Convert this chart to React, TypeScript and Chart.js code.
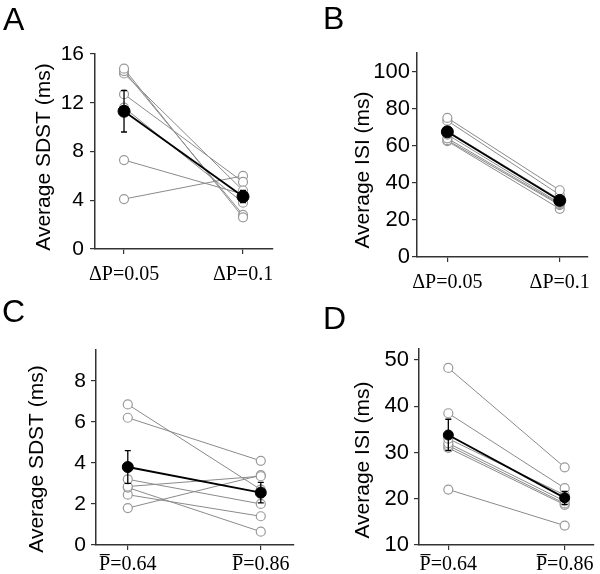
import React, { useEffect, useRef } from "react";
import { Chart, registerables } from "chart.js";
Chart.register(...registerables);

// ---------- Data ----------
const aCategories = ["\u0394P=0.05", "\u0394P=0.1"];
const aFirst = [14.8, 14.6, 14.4, 12.7, 11.6, 7.3, 4.1];
const aSecond = [2.6, 2.8, 4.8, 5.5, 3.8, 4.5, 6.0];
const aMean = [11.3, 4.3];
const aErr = [1.7, 0.5];
const aTicks = [0, 4, 8, 12, 16];

const bCategories = ["\u0394P=0.05", "\u0394P=0.1"];
const bFirst = [75, 73.5, 68, 66, 64, 63, 62.5];
const bSecond = [36, 33.5, 31, 29, 28.5, 28, 26];
const bMean = [67.5, 30.5];
const bErr = [1.8, 1.2];
const bTicks = [0, 20, 40, 60, 80, 100];

const cCategories = ["P\u0305=0.64", "P\u0305=0.86"];
const cFirst = [6.85, 6.2, 3.2, 2.85, 2.8, 2.45, 1.8];
const cSecond = [2.7, 4.1, 2.0, 3.35, 0.65, 1.4, 3.4];
const cMean = [3.8, 2.55];
const cErr = [0.8, 0.5];
const cTicks = [0, 2, 4, 6, 8];

const dCategories = ["P\u0305=0.64", "P\u0305=0.86"];
const dFirst = [48.3, 38.5, 33, 32, 31.5, 31, 22];
const dSecond = [26.8, 22.3, 20.8, 19.5, 19, 18.7, 14.2];
const dMean = [33.8, 20.2];
const dErr = [3.4, 1.4];
const dTicks = [10, 20, 30, 40, 50];

const SANS = "'Liberation Sans', Arial, sans-serif";
const SERIF = "'Liberation Serif', 'Times New Roman', serif";

type PanelCfg = {
  letter: string;
  title: string;
  categories: string[];
  first: number[];
  second: number[];
  mean: number[];
  err: number[];
  ticks: number[];
  yMin: number;
  yMax: number;
  xMin: number;
  xMax: number;
  left: number;
  top: number;
  w: number;
  h: number;
  yWidth: number;
  xHeight: number;
  padTop: number;
  padRight: number;
  yPad: number;
  xPad: number;
  yFont: number;
  letterX: number;
  letterY: number;
  titleX: number;
  titleY: number;
  meanR: number;
};

const panels: PanelCfg[] = [
  {
    letter: "A", title: "Average SDST (ms)", categories: aCategories, first: aFirst, second: aSecond,
    mean: aMean, err: aErr, ticks: aTicks, yMin: 0, yMax: 16, xMin: -0.244, xMax: 1.252,
    left: 0, top: 0, w: 300, h: 290, yWidth: 95, xHeight: 41, padTop: 54, padRight: 27,
    yPad: 6, xPad: 9, yFont: 21, letterX: 3, letterY: 30, titleX: 44, titleY: 157, meanR: 6,
  },
  {
    letter: "B", title: "Average ISI (ms)", categories: bCategories, first: bFirst, second: bSecond,
    mean: bMean, err: bErr, ticks: bTicks, yMin: 0, yMax: 110, xMin: -0.27, xMax: 1.244,
    left: 300, top: 0, w: 300, h: 290, yWidth: 117, xHeight: 33, padTop: 53, padRight: 3,
    yPad: 2, xPad: 9, yFont: 22, letterX: 23, letterY: 29, titleX: 63, titleY: 170, meanR: 6,
  },
  {
    letter: "C", title: "Average SDST (ms)", categories: cCategories, first: cFirst, second: cSecond,
    mean: cMean, err: cErr, ticks: cTicks, yMin: 0, yMax: 9.5, xMin: -0.239, xMax: 1.246,
    left: 0, top: 287, w: 300, h: 287, yWidth: 96, xHeight: 29, padTop: 63, padRight: 5,
    yPad: 5, xPad: 3, yFont: 21, letterX: 2, letterY: 35, titleX: 37, titleY: 172, meanR: 5.5,
  },
  {
    letter: "D", title: "Average ISI (ms)", categories: dCategories, first: dFirst, second: dSecond,
    mean: dMean, err: dErr, ticks: dTicks, yMin: 10, yMax: 52.4, xMin: -0.252, xMax: 1.252,
    left: 300, top: 287, w: 300, h: 287, yWidth: 119, xHeight: 29, padTop: 62, padRight: 2,
    yPad: 5, xPad: 3, yFont: 22, letterX: 23, letterY: 42, titleX: 63, titleY: 173, meanR: 5,
  },
];

function Panel({ cfg }: { cfg: PanelCfg }) {
  const ref = useRef<HTMLCanvasElement | null>(null);
  useEffect(() => {
    if (!ref.current) return;
    const grayDatasets = cfg.first.map((v, i) => ({
      data: [
        { x: 0, y: v },
        { x: 1, y: cfg.second[i] },
      ],
      borderColor: "#8a8a8a",
      borderWidth: 1,
      pointRadius: 4.5,
      pointBackgroundColor: "#ffffff",
      pointBorderColor: "#9a9a9a",
      pointBorderWidth: 1.2,
      order: 2,
    }));
    const meanDataset = {
      data: [
        { x: 0, y: cfg.mean[0] },
        { x: 1, y: cfg.mean[1] },
      ],
      borderColor: "#000000",
      borderWidth: 1.8,
      pointRadius: cfg.meanR,
      pointBackgroundColor: "#000000",
      pointBorderColor: "#000000",
      pointBorderWidth: 1,
      order: 1,
    };
    const overlay = {
      id: "overlay",
      afterDatasetsDraw(chart: any) {
        const { ctx } = chart;
        const xs = chart.scales.x;
        const ys = chart.scales.y;
        ctx.save();
        ctx.strokeStyle = "#000";
        ctx.lineWidth = 1.3;
        cfg.mean.forEach((m, i) => {
          const x = xs.getPixelForValue(i);
          const yt = ys.getPixelForValue(m + cfg.err[i]);
          const yb = ys.getPixelForValue(m - cfg.err[i]);
          ctx.beginPath();
          ctx.moveTo(x, yt);
          ctx.lineTo(x, yb);
          ctx.moveTo(x - 3, yt);
          ctx.lineTo(x + 3, yt);
          ctx.moveTo(x - 3, yb);
          ctx.lineTo(x + 3, yb);
          ctx.stroke();
        });
        ctx.restore();
      },
      afterDraw(chart: any) {
        const { ctx } = chart;
        ctx.save();
        ctx.fillStyle = "#000";
        ctx.font = `32px ${SANS}`;
        ctx.textAlign = "left";
        ctx.textBaseline = "alphabetic";
        ctx.fillText(cfg.letter, cfg.letterX, cfg.letterY);
        ctx.translate(cfg.titleX, cfg.titleY);
        ctx.rotate(-Math.PI / 2);
        ctx.font = `21px ${SANS}`;
        ctx.textAlign = "center";
        ctx.textBaseline = "middle";
        ctx.fillText(cfg.title, 0, 0);
        ctx.restore();
      },
    };
    const chart = new Chart(ref.current, {
      type: "line",
      data: { datasets: [meanDataset, ...grayDatasets] as any },
      options: {
        animation: false,
        responsive: false,
        maintainAspectRatio: false,
        events: [],
        layout: { padding: { left: 0, right: cfg.padRight, top: cfg.padTop, bottom: 0 } },
        plugins: { legend: { display: false }, tooltip: { enabled: false }, title: { display: false } },
        scales: {
          x: {
            type: "linear",
            min: cfg.xMin,
            max: cfg.xMax,
            afterBuildTicks: (s: any) => {
              s.ticks = [{ value: 0 }, { value: 1 }];
            },
            afterFit: (s: any) => {
              s.height = cfg.xHeight;
            },
            ticks: {
              autoSkip: false,
              maxRotation: 0,
              padding: cfg.xPad,
              color: "#000",
              font: { family: SERIF, size: 20 },
              callback: (v: any) => cfg.categories[Math.round(Number(v))] ?? "",
            },
            grid: { display: true, drawOnChartArea: false, drawTicks: true, tickLength: 5, color: "#333", lineWidth: 1.2 },
            border: { display: true, color: "#333", width: 1.5 },
          },
          y: {
            type: "linear",
            min: cfg.yMin,
            max: cfg.yMax,
            afterBuildTicks: (s: any) => {
              s.ticks = cfg.ticks.map((t) => ({ value: t }));
            },
            afterFit: (s: any) => {
              s.width = cfg.yWidth;
            },
            ticks: {
              padding: cfg.yPad,
              color: "#000",
              font: { family: SANS, size: cfg.yFont },
              callback: (v: any) => String(v),
            },
            grid: { display: true, drawOnChartArea: false, drawTicks: true, tickLength: 5, color: "#333", lineWidth: 1.2 },
            border: { display: true, color: "#333", width: 1.5 },
          },
        },
      },
      plugins: [overlay],
    } as any);
    return () => chart.destroy();
  }, [cfg]);
  return (
    <canvas
      ref={ref}
      width={cfg.w}
      height={cfg.h}
      style={{ position: "absolute", left: cfg.left, top: cfg.top, width: cfg.w, height: cfg.h }}
    />
  );
}

export default function App() {
  return (
    <div style={{ position: "fixed", left: 0, top: 0, width: 600, height: 574, background: "#fff" }}>
      {panels.map((p) => (
        <Panel key={p.letter} cfg={p} />
      ))}
    </div>
  );
}
